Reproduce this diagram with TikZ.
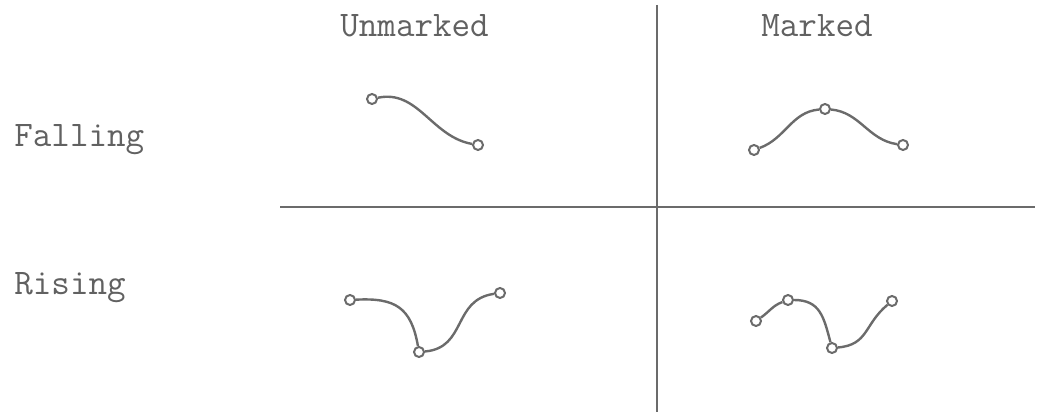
\documentclass[tikz,border=0pt]{standalone}
\usepackage{fontspec}
\definecolor{pencil}{gray}{0.42}
\definecolor{typed}{gray}{0.38}
\begin{document}
\begin{tikzpicture}[x=0.5pt,y=0.5pt,
	loop/.style={ circle, draw=pencil, line width=1pt, inner sep=0pt, minimum size=5pt },
	contour/.style={ draw=pencil, line width=1.2pt },
	rule/.style={ draw=pencil, line width=1.2pt },
	heading/.style={ anchor=base west, inner sep=0pt, text=typed, font=\ttfamily\fontsize{18}{20}\selectfont }
]
\useasboundingbox (0,0) rectangle (1048,412);

\node at (340,375) (unmarked) [heading] {Unmarked};
\node at (761,375) (marked) [heading] {Marked};
\node at (14,265) (falling) [heading] {Falling};
\node at (14,117) (rising) [heading] {Rising};

\coordinate (top) at (657,407);
\coordinate (bottom) at (657,0);
\coordinate (left) at (280,205);
\coordinate (right) at (1035,205);
\draw [rule] (top) -- (bottom);
\draw [rule] (left) -- (right);

% falling, unmarked
\node at (372,313) (fu1) [loop] {};
\node at (478,267) (fu2) [loop] {};
\draw [contour] (fu1) to[out=12,in=170] (fu2);

% falling, marked
\node at (754,262) (fm1) [loop] {};
\node at (825,303) (fm2) [loop] {};
\node at (903,267) (fm3) [loop] {};
\draw [contour] (fm1) to[out=20,in=185] (fm2);
\draw [contour] (fm2) to[out=-5,in=172] (fm3);

% rising, unmarked
\node at (350,112) (ru1) [loop] {};
\node at (419,60) (ru2) [loop] {};
\node at (500,119) (ru3) [loop] {};
\draw [contour] (ru1) to[out=3,in=100,looseness=1.3] (ru2);
\draw [contour] (ru2) to[out=5,in=188,looseness=1.2] (ru3);

% rising, marked
\node at (756,91) (rm1) [loop] {};
\node at (788,112) (rm2) [loop] {};
\node at (832,64) (rm3) [loop] {};
\node at (892,111) (rm4) [loop] {};
\draw [contour] (rm1) to[out=35,in=200] (rm2);
\draw [contour] (rm2) to[out=0,in=105,looseness=1.2] (rm3);
\draw [contour] (rm3) to[out=5,in=220,looseness=1.2] (rm4);

\end{tikzpicture}
\end{document}
